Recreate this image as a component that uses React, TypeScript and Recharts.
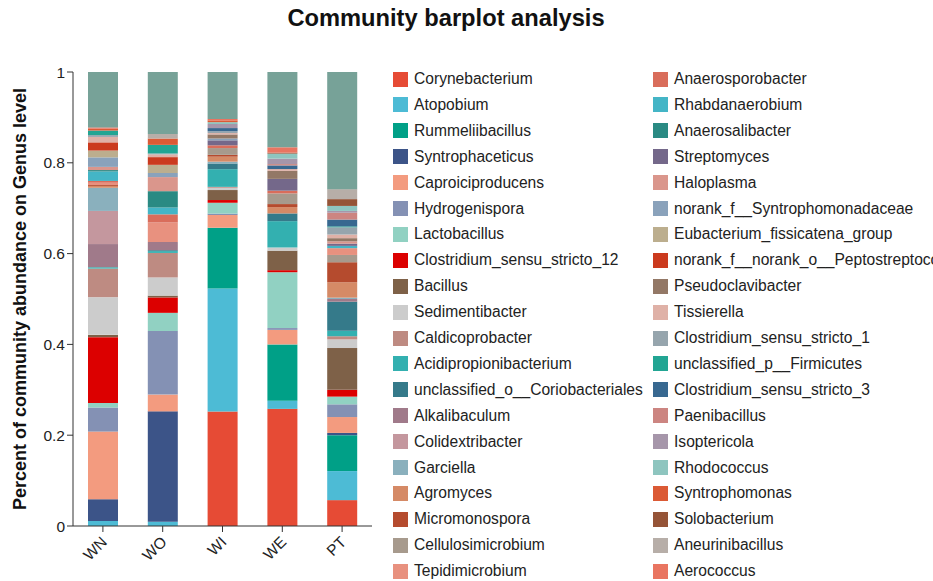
import React from 'react';
import { BarChart, Bar, XAxis, YAxis } from 'recharts';

// samples on the x axis
const samples = ['WN', 'WO', 'WI', 'WE', 'PT'];

// genera in stacking order (bottom -> top), "Others" is the remainder
const genera = [
  'Corynebacterium', 'Atopobium', 'Rummeliibacillus', 'Syntrophaceticus', 'Caproiciproducens',
  'Hydrogenispora', 'Lactobacillus', 'Clostridium_sensu_stricto_12', 'Bacillus', 'Sedimentibacter',
  'Caldicoprobacter', 'Acidipropionibacterium', 'unclassified_o__Coriobacteriales', 'Alkalibaculum', 'Colidextribacter',
  'Garciella', 'Agromyces', 'Micromonospora', 'Cellulosimicrobium', 'Tepidimicrobium',
  'Anaerosporobacter', 'Rhabdanaerobium', 'Anaerosalibacter', 'Streptomyces', 'Haloplasma',
  'norank_f__Syntrophomonadaceae', 'Eubacterium_fissicatena_group', 'norank_f__norank_o__Peptostreptococcales-Tissierellales', 'Pseudoclavibacter', 'Tissierella',
  'Clostridium_sensu_stricto_1', 'unclassified_p__Firmicutes', 'Clostridium_sensu_stricto_3', 'Paenibacillus', 'Isoptericola',
  'Rhodococcus', 'Syntrophomonas', 'Solobacterium', 'Aneurinibacillus', 'Aerococcus',
];

const colors = [
  '#E64B35', '#4DBBD5', '#00A087', '#3C5488', '#F39B7F',
  '#8491B4', '#91D1C2', '#DC0000', '#7E6148', '#CCCCCC',
  '#BE8B82', '#33B0B0', '#357A8A', '#A07A8A', '#C4979E',
  '#8AB0BD', '#D58A66', '#B54B2E', '#A79A8D', '#E8917F',
  '#D96D5B', '#44B5C6', '#2A8A83', '#74688A', '#DA968C',
  '#8AA2BB', '#BCAE8E', '#CB3A1E', '#937866', '#DFB1A7',
  '#96A5AD', '#22A593', '#386890', '#CC8581', '#A696AA',
  '#8EC5BF', '#DB5A35', '#955437', '#B7AEA8', '#E97561',
];
const othersColor = '#77A298';

// relative abundance per sample, same order as genera
const wn = [
  0, 0.011, 0, 0.048, 0.149, 0.053, 0.010, 0.145, 0.005, 0.083,
  0.063, 0.003, 0, 0.051, 0.073, 0.051, 0.004, 0.002, 0, 0.005,
  0.004, 0.021, 0.003, 0, 0.007, 0.021, 0.015, 0.018, 0, 0.012,
  0.004, 0.010, 0, 0, 0, 0, 0.004, 0, 0, 0.003,
];
const wo = [
  0, 0.0095, 0, 0.243, 0.037, 0.140, 0.040, 0.034, 0.004, 0.040,
  0.054, 0.004, 0.002, 0.018, 0, 0, 0, 0, 0, 0.043,
  0.018, 0.015, 0.036, 0, 0.031, 0.009, 0.018, 0.017, 0, 0.006,
  0.002, 0.019, 0, 0, 0, 0, 0.014, 0, 0.010, 0,
];
const wi = [
  0.252, 0.271, 0.134, 0, 0.028, 0.003, 0.024, 0.006, 0.022, 0.005,
  0.002, 0.039, 0.0125, 0, 0, 0.004, 0.011, 0.004, 0.015, 0,
  0.006, 0, 0, 0.011, 0, 0.004, 0, 0, 0.009, 0.003,
  0.004, 0, 0.007, 0, 0.009, 0.004, 0.004, 0, 0, 0.003,
];
const we = [
  0.258, 0.018, 0.124, 0, 0.032, 0.004, 0.123, 0.0045, 0.043, 0.007,
  0, 0.058, 0.017, 0, 0, 0, 0.014, 0.0066, 0.0235, 0,
  0.006, 0, 0, 0.026, 0, 0, 0, 0, 0.0176, 0.004,
  0, 0, 0.008, 0.003, 0.012, 0.011, 0, 0.002, 0, 0.012,
];
const pt = [
  0.057, 0.064, 0.079, 0.005, 0.035, 0.028, 0.017, 0.015, 0.092, 0.019,
  0.007, 0.012, 0.064, 0.006, 0, 0.003, 0.034, 0.044, 0.016, 0.015,
  0, 0.005, 0, 0.005, 0.005, 0, 0, 0, 0.007, 0.008,
  0.016, 0.002, 0.015, 0.015, 0.004, 0.011, 0, 0.015, 0.022, 0,
];

const yTicks = [0, 0.2, 0.4, 0.6, 0.8, 1];

const sampleValues = [wn, wo, wi, we, pt];
const chartData = samples.map((name, i) => {
  const row: { [key: string]: number | string } = { name };
  let total = 0;
  genera.forEach((g, j) => {
    row[g] = sampleValues[i][j];
    total += sampleValues[i][j];
  });
  row.Others = Math.max(0, 1 - total);
  return row;
});

const FONT = '"Liberation Sans", Arial, sans-serif';

const XTick = ({ x, y, payload }: any) => (
  <g transform={`translate(${x + 5},${y + 9})`}>
    <text x={0} y={0} textAnchor="end" transform="rotate(-45)" fontSize={15.5} fill="#222" fontFamily={FONT}>
      {payload.value}
    </text>
  </g>
);

const App: React.FC = () => {
  return (
    <div style={{ position: 'absolute', left: 0, top: 0, width: 933, height: 581, overflow: 'hidden', background: '#fff', fontFamily: FONT }}>
      <div style={{ position: 'absolute', left: 0, width: 892, top: 5, textAlign: 'center', fontSize: 23.7, fontWeight: 'bold', color: '#111' }}>
        Community barplot analysis
      </div>
      <div
        style={{
          position: 'absolute', left: 20, top: 299, width: 500, marginLeft: -250, marginTop: -11,
          textAlign: 'center', fontSize: 18, fontWeight: 'bold', color: '#111',
          transform: 'rotate(-90deg)', whiteSpace: 'nowrap', lineHeight: '22px',
        }}
      >
        Percent of community abundance on Genus level
      </div>
      <div style={{ position: 'absolute', left: 0, top: 0 }}>
        <BarChart width={380} height={581} data={chartData} margin={{ top: 72, right: 8, bottom: 15, left: 33 }} barSize={30}>
          <XAxis dataKey="name" height={40} tickSize={6} stroke="#333" tick={<XTick />} interval={0} />
          <YAxis
            width={40}
            domain={[0, 1]}
            ticks={yTicks}
            tickSize={6}
            stroke="#333"
            allowDataOverflow
            tick={{ fontSize: 15.5, fill: '#222', fontFamily: FONT }}
            tickFormatter={(v: number) => String(v)}
          />
          {genera.map((g, j) => (
            <Bar key={g} dataKey={g} stackId="a" fill={colors[j]} isAnimationActive={false} />
          ))}
          <Bar dataKey="Others" stackId="a" fill={othersColor} isAnimationActive={false} />
        </BarChart>
      </div>
      {genera.map((g, j) => {
        const col = Math.floor(j / 20);
        const row = j % 20;
        return (
          <div
            key={g}
            style={{
              position: 'absolute', left: col === 0 ? 393 : 653, top: 71 + row * 25.9,
              display: 'flex', alignItems: 'center', whiteSpace: 'nowrap', height: 16,
            }}
          >
            <span style={{ width: 15, height: 15, background: colors[j], display: 'inline-block', marginRight: 6 }} />
            <span style={{ fontSize: 15.6, color: '#222' }}>{g}</span>
          </div>
        );
      })}
    </div>
  );
};

export default App;
